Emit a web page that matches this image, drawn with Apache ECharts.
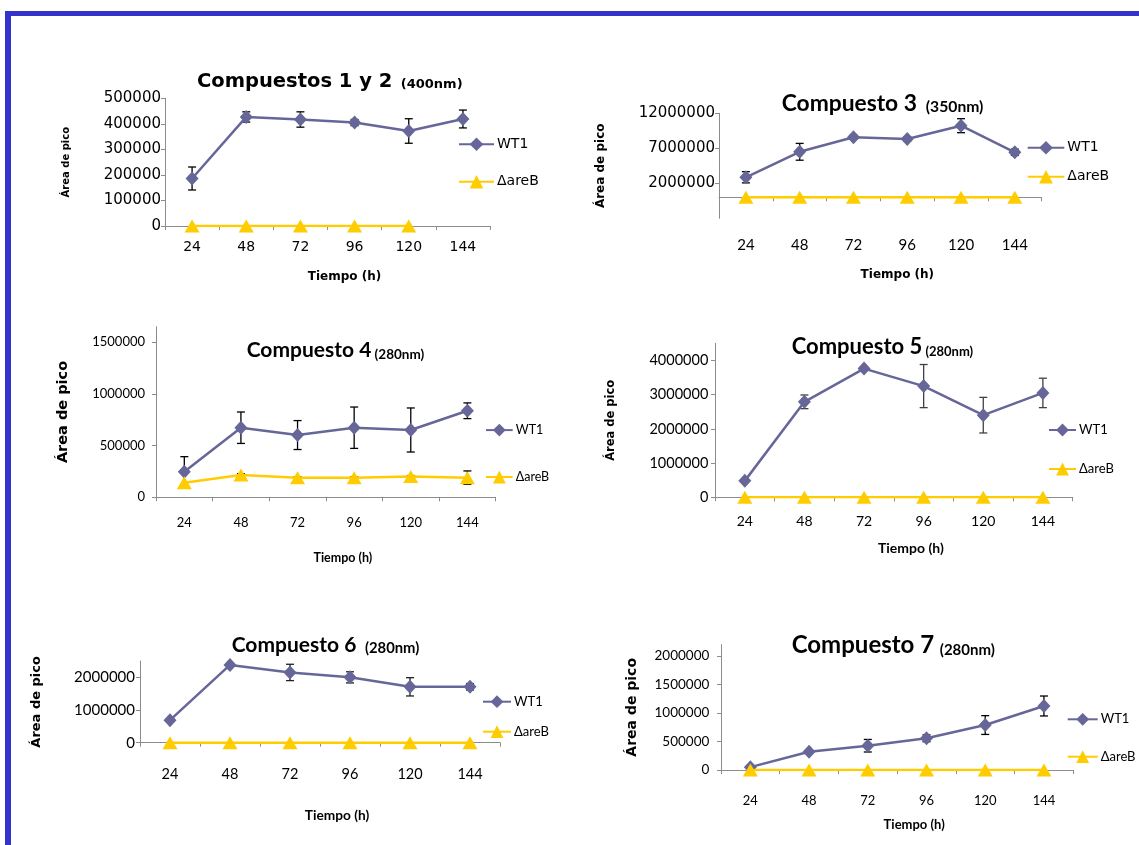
<!DOCTYPE html>
<html>
<head>
<meta charset="utf-8"/>
<title>Área de pico</title>
<script src="https://cdn.jsdelivr.net/npm/echarts@6.0.0/dist/echarts.min.js"></script>
<style>
body { margin: 0; background: #fff; }
#chart { position: absolute; left: 0; top: 0; width: 1139px; height: 845px; }
.bar { position: absolute; background: #3333cc; }
</style>
</head>
<body>
<div id="chart"></div>
<div class="bar" style="left:5px;top:11px;width:1134px;height:5px;"></div>
<div class="bar" style="left:5px;top:11px;width:6px;height:834px;"></div>
<script>
var hours = ['24', '48', '72', '96', '120', '144'];

// Compuestos 1 y 2 (400nm)
var c12Wt1 = [186000, 427000, 417000, 405000, 372000, 419000];
var c12Wt1Err = [45000, 20000, 30000, 12000, 48000, 35000];
var c12Dare = [0, 0, 0, 0, 0, '-'];
var c12Ticks = [0, 100000, 200000, 300000, 400000, 500000];

// Compuesto 3 (350nm)
var c3Wt1 = [2860000, 6500000, 8570000, 8330000, 10230000, 6430000];
var c3Wt1Err = [800000, 1200000, 300000, 300000, 1000000, 450000];
var c3Dare = [0, 0, 0, 0, 0, 0];
var c3Ticks = [2000000, 7000000, 12000000];

// Compuesto 4 (280nm)
var c4Wt1 = [248000, 673000, 602000, 673000, 651000, 837000];
var c4Wt1Err = [145000, 152000, 140000, 200000, 213000, 76000];
var c4Dare = [141000, 216000, 190000, 190000, 200000, 190000];
var c4DareErr = [0, 12000, 8000, 8000, 10000, 65000];
var c4Ticks = [0, 500000, 1000000, 1500000];

// Compuesto 5 (280nm)
var c5Wt1 = [480000, 2790000, 3760000, 3250000, 2400000, 3050000];
var c5Wt1Err = [0, 200000, 50000, 630000, 520000, 430000];
var c5Dare = [0, 0, 0, 0, 0, 0];
var c5Ticks = [0, 1000000, 2000000, 3000000, 4000000];

// Compuesto 6 (280nm)
var c6Wt1 = [690000, 2380000, 2150000, 2000000, 1710000, 1710000];
var c6Wt1Err = [0, 60000, 250000, 170000, 280000, 100000];
var c6Dare = [0, 0, 0, 0, 0, 0];
var c6Ticks = [0, 1000000, 2000000];

// Compuesto 7 (280nm)
var c7Wt1 = [50000, 321000, 426000, 556000, 789000, 1123000];
var c7Wt1Err = [0, 30000, 110000, 60000, 165000, 175000];
var c7Dare = [0, 0, 0, 0, 0, 0];
var c7Ticks = [0, 500000, 1000000, 1500000, 2000000];

var DV = 'DejaVu Sans', LA = 'Lato';

var panels = [
    { title: 'Compuestos 1 y 2', nm: '(400nm)', wt1: c12Wt1, err: c12Wt1Err, dare: c12Dare, dareErr: null,
      ticks: c12Ticks, yMin: 0, yMax: 500000,
      grid: [165, 98.3, 325, 127.7], tFont: DV, tx: 197, ty: 81.7, tSize: 19.5, nmSize: 13, nmPad: 4,
      yFont: DV, ySize: 15, yMargin: 4, xFont: DV, xSize: 14, xMargin: 14,
      ynFont: DV, ynSize: 10, ynGap: 94, xnFont: DV, xnSize: 12, xnGap: 45,
      lg: [458, 137.3, 35, 17, 23.4], lgFont: DV, lgSize: 14, errColor: '#000' },
    { title: 'Compuesto 3', nm: '(350nm)', wt1: c3Wt1, err: c3Wt1Err, dare: c3Dare, dareErr: null,
      ticks: c3Ticks, yMin: -3000000, yMax: 12000000,
      grid: [719, 113.3, 322.7, 105], tFont: LA, tx: 781.7, ty: 103.3, tSize: 22.8, nmSize: 15.7, nmPad: 5,
      yFont: DV, ySize: 15, yMargin: 4, xFont: LA, xSize: 15, xMargin: 19,
      ynFont: DV, ynSize: 12, ynGap: 112, xnFont: DV, xnSize: 12, xnGap: 50.7,
      lg: [1026.7, 140.7, 36.6, 17, 15], lgFont: DV, lgSize: 14, errColor: '#000' },
    { title: 'Compuesto 4', nm: '(280nm)', wt1: c4Wt1, err: c4Wt1Err, dare: c4Dare, dareErr: c4DareErr,
      ticks: c4Ticks, yMin: 0, yMax: 1650000,
      grid: [156, 326.7, 339.7, 170.6], tFont: LA, tx: 246.7, ty: 350.7, tSize: 21, nmSize: 13.5, nmPad: 0,
      yFont: LA, ySize: 13, yMargin: 11, xFont: LA, xSize: 13, xMargin: 19,
      ynFont: DV, ynSize: 14.5, ynGap: 85, xnFont: LA, xnSize: 12.5, xnGap: 54.5,
      lg: [485, 423.6, 26.7, 16, 33.9], lgFont: LA, lgSize: 12.5, errColor: '#000' },
    { title: 'Compuesto 5', nm: '(280nm)', wt1: c5Wt1, err: c5Wt1Err, dare: c5Dare, dareErr: null,
      ticks: c5Ticks, yMin: 0, yMax: 4500000,
      grid: [715, 343.3, 357.7, 154], tFont: LA, tx: 791.7, ty: 346.7, tSize: 22, nmSize: 13, nmPad: 0,
      yFont: LA, ySize: 14.5, yMargin: 6.7, xFont: LA, xSize: 14, xMargin: 17.4,
      ynFont: DV, ynSize: 11.5, ynGap: 97.5, xnFont: LA, xnSize: 14, xnGap: 44,
      lg: [1048, 423.5, 27, 16, 26], lgFont: LA, lgSize: 13, errColor: '#404040' },
    { title: 'Compuesto 6', nm: '(280nm)', wt1: c6Wt1, err: c6Wt1Err, dare: c6Dare, dareErr: null,
      ticks: c6Ticks, yMin: 0, yMax: 2500000,
      grid: [140, 661, 360, 81.7], tFont: LA, tx: 231.7, ty: 645, tSize: 21, nmSize: 14.8, nmPad: 5,
      yFont: LA, ySize: 15, yMargin: 5, xFont: LA, xSize: 14.5, xMargin: 24,
      ynFont: DV, ynSize: 13, ynGap: 97, xnFont: LA, xnSize: 13.7, xnGap: 65.5,
      lg: [482, 695.2, 28, 16, 17], lgFont: LA, lgSize: 13, errColor: '#222' },
    { title: 'Compuesto 7', nm: '(280nm)', wt1: c7Wt1, err: c7Wt1Err, dare: c7Dare, dareErr: null,
      ticks: c7Ticks, yMin: 0, yMax: 2200000,
      grid: [721, 644.6, 352.3, 125.4], tFont: LA, tx: 791.7, ty: 645, tSize: 24, nmSize: 15, nmPad: 2,
      yFont: LA, ySize: 13.5, yMargin: 11.7, xFont: LA, xSize: 13, xMargin: 24,
      ynFont: DV, ynSize: 14, ynGap: 82, xnFont: LA, xnSize: 13, xnGap: 48.5,
      lg: [1066.7, 712.8, 30, 16, 24.4], lgFont: LA, lgSize: 13, errColor: '#000' }
];

var axisGray = '#8c8c8c';

function errorBars(vals, errs) {
    return vals.map(function (v, i) {
        return [i, v - errs[i], v + errs[i]];
    });
}

function errRenderer(color) {
    return function (params, api) {
        var lo = api.value(1), hi = api.value(2);
        if (hi === lo) return null;
        var i = api.value(0);
        var top = api.coord([i, hi]), bot = api.coord([i, lo]);
        var w = 4, st = { stroke: color, lineWidth: 1.3 };
        return {
            type: 'group',
            children: [
                { type: 'line', shape: { x1: top[0], y1: top[1], x2: bot[0], y2: bot[1] }, style: st },
                { type: 'line', shape: { x1: top[0] - w, y1: top[1], x2: top[0] + w, y2: top[1] }, style: st },
                { type: 'line', shape: { x1: bot[0] - w, y1: bot[1], x2: bot[0] + w, y2: bot[1] }, style: st }
            ]
        };
    };
}

var option = { animation: false, title: [], legend: [], grid: [], xAxis: [], yAxis: [], series: [] };

panels.forEach(function (p, k) {
    option.grid.push({ left: p.grid[0], top: p.grid[1], width: p.grid[2], height: p.grid[3], containLabel: false });
    option.title.push({
        left: p.tx, top: p.ty - p.tSize * 0.6, padding: 0,
        text: '{a|' + p.title + '} {b|' + p.nm + '}',
        textStyle: {
            fontSize: p.nmSize, fontWeight: 'bold', fontFamily: p.tFont, color: '#000',
            rich: {
                a: { fontFamily: p.tFont, fontWeight: 'bold', fontSize: p.tSize, lineHeight: p.tSize * 1.2, color: '#000' },
                b: { fontFamily: p.tFont, fontWeight: 'bold', fontSize: p.nmSize, lineHeight: p.nmSize * 1.2,
                     verticalAlign: 'bottom', padding: [0, 0, 2, p.nmPad], color: '#000' }
            }
        }
    });
    option.legend.push({
        data: ['WT1', 'ΔareB'], orient: 'vertical', left: p.lg[0], top: p.lg[1],
        itemWidth: p.lg[2], itemHeight: p.lg[3], itemGap: p.lg[4], padding: 0,
        selectedMode: false,
        textStyle: { fontFamily: p.lgFont, fontSize: p.lgSize, color: '#000', padding: [0, 0, 0, -2] }
    });
    option.xAxis.push({
        type: 'category', gridIndex: k, data: hours, boundaryGap: true,
        name: 'Tiempo (h)', nameLocation: 'middle', nameGap: p.xnGap,
        nameTextStyle: { fontFamily: p.xnFont, fontWeight: 'bold', fontSize: p.xnSize, color: '#000', padding: [0, 0, 0, 34] },
        axisLine: { lineStyle: { color: axisGray, width: 1 } },
        axisTick: { show: true, length: 4, lineStyle: { color: axisGray } },
        axisLabel: { interval: 0, margin: p.xMargin, fontFamily: p.xFont, fontSize: p.xSize, color: '#000' },
        splitLine: { show: false }
    });
    option.yAxis.push({
        type: 'value', gridIndex: k, min: p.yMin, max: p.yMax,
        name: 'Área de pico', nameLocation: 'middle', nameGap: p.ynGap, nameRotate: 90,
        nameTextStyle: { fontFamily: p.ynFont, fontWeight: 'bold', fontSize: p.ynSize, color: '#000' },
        axisLine: { show: true, lineStyle: { color: axisGray, width: 1 } },
        axisTick: { show: true, length: 4, lineStyle: { color: axisGray }, customValues: p.ticks },
        axisLabel: {
            margin: p.yMargin, fontFamily: p.yFont, fontSize: p.ySize, color: '#000', customValues: p.ticks,
            formatter: function (v) { return String(v); }
        },
        splitLine: { show: false }
    });
    option.series.push({
        type: 'custom', xAxisIndex: k, yAxisIndex: k, silent: true, z: 1,
        renderItem: errRenderer(p.errColor), encode: { x: 0, y: [1, 2] },
        data: errorBars(p.wt1, p.err)
    });
    option.series.push({
        name: 'WT1', type: 'line', xAxisIndex: k, yAxisIndex: k, z: 2,
        data: p.wt1, symbol: 'diamond', symbolSize: [13, 14],
        lineStyle: { color: '#666699', width: 2.5 }, itemStyle: { color: '#666699' }
    });
    if (p.dareErr) {
        option.series.push({
            type: 'custom', xAxisIndex: k, yAxisIndex: k, silent: true, z: 3,
            renderItem: errRenderer(p.errColor), encode: { x: 0, y: [1, 2] },
            data: errorBars(p.dare, p.dareErr)
        });
    }
    option.series.push({
        name: 'ΔareB', type: 'line', xAxisIndex: k, yAxisIndex: k, z: 4,
        data: p.dare, symbol: 'triangle', symbolSize: [15, 13],
        lineStyle: { color: '#ffcc00', width: 2.5 }, itemStyle: { color: '#ffcc00' }
    });
});

var chart = echarts.init(document.getElementById('chart'));
chart.setOption(option);
</script>
</body>
</html>
